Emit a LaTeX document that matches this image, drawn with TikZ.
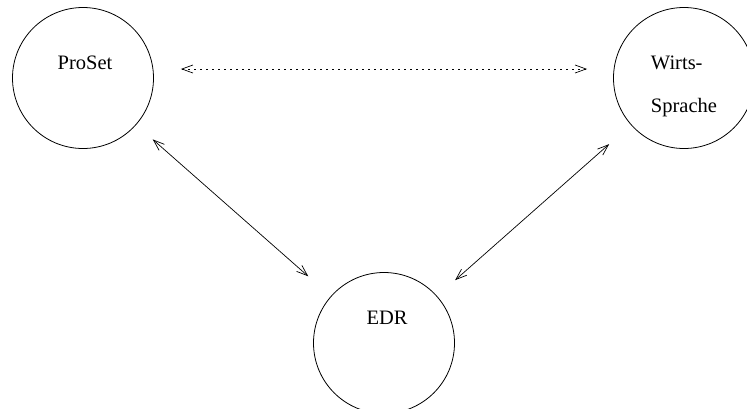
\documentclass[tikz,border=0pt]{standalone}
\usepackage{fontspec}
\setmainfont{Liberation Serif}
\usetikzlibrary{arrows.meta}

\tikzset{
  blob/.style={circle, draw, line width=0.8pt, minimum size=141pt, inner sep=0pt},
  lbl/.style={font=\fontsize{20.5}{43}\selectfont, inner sep=0pt},
  link/.style={line width=0.7pt, {Straight Barb[length=11pt,width=8pt]}-{Straight Barb[length=11pt,width=8pt]}},
  weak/.style={link, dash pattern=on 1.6pt off 4.4pt}
}

\begin{document}
\begin{tikzpicture}[x=1pt, y=-1pt]
  \useasboundingbox (0,0) rectangle (747,408);

  % the three components
  \node[blob] (p) at (83,78) {};
  \node[blob] (w) at (684,78) {};
  \node[blob] (e) at (384,343) {};

  % their names
  \node[lbl] (pl) at (85,63) {ProSet};
  \node[lbl, align=left] (wl) at (684,86) {Wirts-\\Sprache};
  \node[lbl] (el) at (387,318) {EDR};

  % couplings
  \draw[weak] ([shift={(27pt,9pt)}]p.east) -- ([shift={(-26pt,9pt)}]w.west);
  \draw[link, shorten <=22pt, shorten >=30pt] (p) -- (e);
  \draw[link, shorten <=29pt, shorten >=24pt] (w) -- (e);
\end{tikzpicture}
\end{document}
